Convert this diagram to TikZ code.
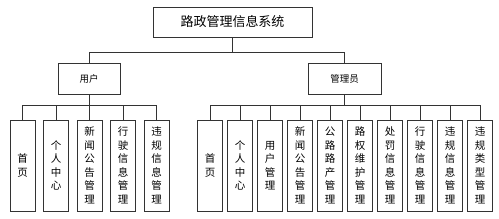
\documentclass[tikz,border=0pt]{standalone}
\usepackage{fontspec}
\setmainfont{Noto Sans CJK SC}
\begin{document}
\begin{tikzpicture}[x=1pt,y=-1pt,
 box/.style={draw=black!80,line width=0.9pt,inner sep=0pt,align=center},
 leaf/.style={box,minimum width=25pt,minimum height=91pt,font=\fontsize{10.5}{13.5}\selectfont},
 wire/.style={draw=black!80,line width=0.8pt}]
\useasboundingbox (0,0) rectangle (499,218);
\node[box,minimum width=159pt,minimum height=30pt,font=\fontsize{13}{15}\selectfont] (root) at (232.5,22) {路政管理信息系统};
\node[box,minimum width=62pt,minimum height=31pt,font=\fontsize{9.5}{11}\selectfont] (user) at (89,78.5) {用户};
\node[box,minimum width=73pt,minimum height=31pt,font=\fontsize{9.5}{11}\selectfont] (admin) at (344.5,78.5) {管理员};
\coordinate (j0) at (232.5,52);
\draw[wire] (root.south) -- (j0);
\draw[wire] (j0) -| (user.north);
\draw[wire] (j0) -| (admin.north);
% user modules
\foreach \i/\t in {0/首\\页,1/个\\人\\中\\心,2/新\\闻\\公\\告\\管\\理,3/行\\驶\\信\\息\\管\\理,4/违\\规\\信\\息\\管\\理}
 {\node[leaf] (u\i) at (22.5+33.5*\i,165.5) {\t};
  \draw[wire] (user.south) |- (22.5+33.5*\i,105.5) -- (u\i.north);}
% admin modules
\foreach \i/\t in {0/首\\页,1/个\\人\\中\\心,2/用\\户\\管\\理,3/新\\闻\\公\\告\\管\\理,4/公\\路\\路\\产\\管\\理,5/路\\权\\维\\护\\管\\理,6/处\\罚\\信\\息\\管\\理,7/行\\驶\\信\\息\\管\\理,8/违\\规\\信\\息\\管\\理,9/违\\规\\类\\型\\管\\理}
 {\node[leaf] (a\i) at (210+30*\i,165.5) {\t};
  \draw[wire] (admin.south) |- (210+30*\i,105.5) -- (a\i.north);}
\end{tikzpicture}
\end{document}
